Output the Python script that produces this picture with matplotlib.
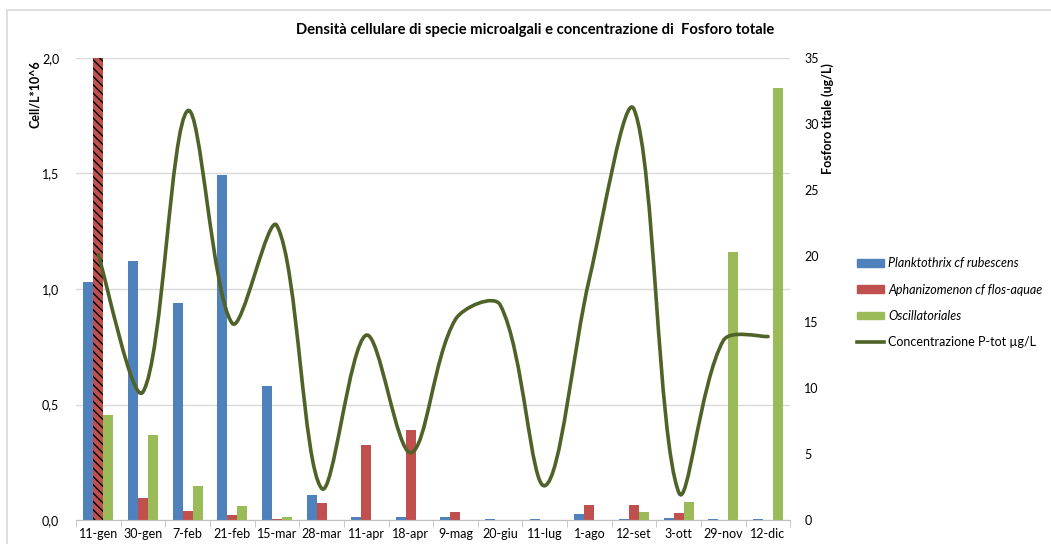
import matplotlib
matplotlib.use("Agg")
import matplotlib.pyplot as plt
from matplotlib.path import Path
from matplotlib.patches import PathPatch, Patch, Rectangle
from matplotlib.lines import Line2D
import numpy as np

plt.rcParams['font.family'] = ['Lato', 'DejaVu Sans']

dates = ["11-gen", "30-gen", "7-feb", "21-feb", "15-mar", "28-mar", "11-apr", "18-apr",
         "9-mag", "20-giu", "11-lug", "1-ago", "12-set", "3-ott", "29-nov", "12-dic"]

planktothrix = [1.03, 1.12, 0.94, 1.495, 0.58, 0.11, 0.015, 0.012,
                0.015, 0.003, 0.003, 0.025, 0.003, 0.007, 0.003, 0.003]
# the first value goes off the scale (drawn hatched, cut at 2,0)
aphanizomenon = [2.0, 0.095, 0.04, 0.02, 0.005, 0.075, 0.325, 0.39,
                 0.035, 0.0, 0.002, 0.065, 0.063, 0.03, 0.002, 0.0]
oscillatoriales = [0.455, 0.37, 0.148, 0.062, 0.012, 0.0, 0.0, 0.0,
                   0.0, 0.0, 0.0, 0.0, 0.035, 0.08, 1.16, 1.87]
p_tot = [20.1, 9.7, 31.0, 14.9, 22.3, 2.4, 14.0, 5.1,
         15.2, 16.3, 2.6, 18.3, 31.1, 2.1, 13.6, 13.9]

left_ticks = [0, 0.5, 1.0, 1.5, 2.0]
left_labels = ["0,0", "0,5", "1,0", "1,5", "2,0"]
right_ticks = [0, 5, 10, 15, 20, 25, 30, 35]

blue, red, green, olive = "#4F81BD", "#C0504D", "#9BBB59", "#4F6228"
grid_c = "#D9D9D9"

fig = plt.figure(figsize=(10.51, 5.44), dpi=100)
ax = fig.add_axes([0.0723, 0.0441, 0.6797, 0.8493])
ax2 = ax.twinx()

# chart area frame
fig.patches.append(Rectangle((7 / 1051, -0.1), 1.2, 1.1 - 10 / 544, transform=fig.transFigure,
                             fill=False, edgecolor="#D9D9D9", linewidth=1.2))

x = np.arange(len(dates))
w = 0.224
ax.bar(x - w, planktothrix, w, color=blue, zorder=2)
bars_r = ax.bar(x, aphanizomenon, w, color=red, zorder=2)
bars_r[0].set_hatch("\\\\\\\\")
bars_r[0].set_edgecolor("black")
bars_r[0].set_linewidth(0)
ax.bar(x + w, oscillatoriales, w, color=green, zorder=2)

ax.set_xlim(-0.5, len(dates) - 0.5)
ax.set_ylim(0, 2.0)
ax.set_yticks(left_ticks)
ax.set_yticklabels(left_labels)
ax.yaxis.grid(True, color=grid_c, linewidth=1, zorder=0)
ax.set_axisbelow(True)
ax.set_xticks(x)
ax.set_xticklabels(dates, fontsize=9)
ax.set_xticks(np.arange(-0.5, len(dates)), minor=True)
ax.tick_params(axis="x", which="major", length=0, pad=6)
ax.tick_params(axis="x", which="minor", length=5, color="#BFBFBF")
ax.tick_params(axis="y", length=0, labelsize=9, pad=12)
for s in ["top", "right", "left"]:
    ax.spines[s].set_visible(False)
ax.spines["bottom"].set_color("#BFBFBF")

ax2.set_ylim(0, 35)
ax2.set_yticks(right_ticks)
ax2.tick_params(axis="y", length=0, labelsize=9, pad=10)
for s in ["top", "right", "left", "bottom"]:
    ax2.spines[s].set_visible(False)

# smoothed line for total phosphorus (Excel-style bezier, weighted by segment length)
disp = ax2.transData.transform(np.column_stack([x, p_tot]))
pts = np.column_stack([x, p_tot]).astype(float)
n = len(pts)


def seg_len(i, j):
    return np.hypot(*(disp[j] - disp[i]))


verts = [tuple(pts[0])]
codes = [Path.MOVETO]
for i in range(n - 1):
    i0, i3 = max(i - 1, 0), min(i + 2, n - 1)
    d01, d12, d23 = seg_len(i0, i), seg_len(i, i + 1), seg_len(i + 1, i3)
    f1 = d12 / (d01 + d12) / 3 if i > 0 else 1 / 6
    f2 = d12 / (d12 + d23) / 3 if i + 2 < n else 1 / 6
    c1 = pts[i] + (pts[i + 1] - pts[i0]) * f1
    c2 = pts[i + 1] - (pts[i3] - pts[i]) * f2
    verts += [tuple(c1), tuple(c2), tuple(pts[i + 1])]
    codes += [Path.CURVE4] * 3
ax2.add_patch(PathPatch(Path(verts, codes), fill=False, edgecolor=olive, linewidth=2.6,
                        capstyle="round", zorder=3))

fig.text(35 / 1051, 1 - 60 / 544, "Cell/L*10^6", rotation=90, ha="center", va="top",
         fontsize=9, fontweight="bold")
fig.text(828 / 1051, 1 - 63 / 544, "Fosforo titale (ug/L)", rotation=90, ha="center", va="top",
         fontsize=9, fontweight="bold")

fig.text(0.509, 0.944, "Densità cellulare di specie microalgali e concentrazione di  Fosforo totale",
         ha="center", va="center", fontsize=10.6, fontweight="bold")

handles = [Patch(color=blue), Patch(color=red), Patch(color=green),
           Line2D([0], [0], color=olive, linewidth=2.6)]
labels = ["Planktothrix cf rubescens", "Aphanizomenon cf flos-aquae", "Oscillatoriales",
          "Concentrazione P-tot µg/L"]
leg = fig.legend(handles, labels, loc="upper left", bbox_to_anchor=(0.805, 0.548),
                 frameon=False, fontsize=9, handlelength=2.15, handleheight=0.6,
                 handletextpad=0.3, labelspacing=1.15)
for t in leg.get_texts()[:3]:
    t.set_style("italic")

fig.savefig("out.png", dpi=100)
